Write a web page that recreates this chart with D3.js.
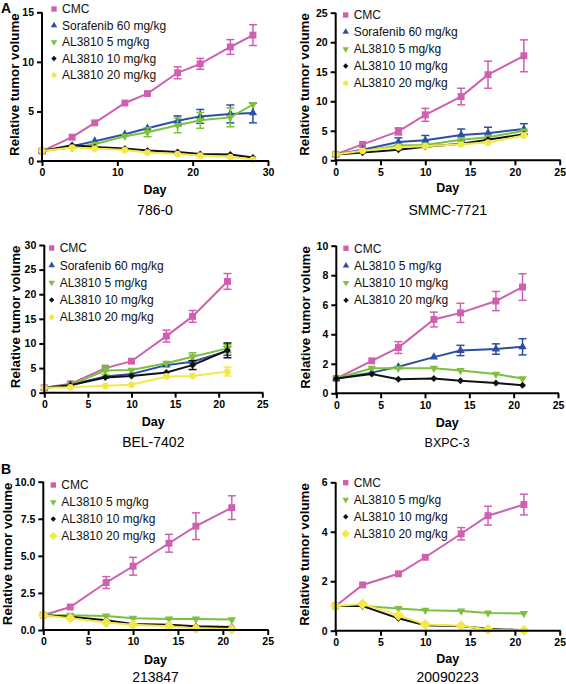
<!DOCTYPE html>
<html><head><meta charset="utf-8">
<script src="https://cdn.jsdelivr.net/npm/d3@7"></script>
<style>body{margin:0;background:#fff}svg{display:block}text{font-family:"Liberation Sans",Arial,sans-serif}</style>
</head><body>
<svg id="c" width="566" height="684"></svg>
<script>
// ---------- data ----------
const legend5 = ["CMC","Sorafenib 60 mg/kg","AL3810 5 mg/kg","AL3810 10 mg/kg","AL3810 20 mg/kg"];
const legend4 = ["CMC","AL3810 5 mg/kg","AL3810 10 mg/kg","AL3810 20 mg/kg"];

const days786 = [0,4,7,11,14,18,21,25,28];
const cmc786 = [1,2.4,3.85,5.85,6.8,8.9,9.8,11.5,12.7];
const cmc786e = [0.05,0.15,0.15,0.25,0.25,0.6,0.55,0.75,1.05];
const sor786 = [1,1.5,2.0,2.7,3.3,4.05,4.5,4.75,4.85];
const sor786e = [0.05,0.1,0.15,0.3,0.35,0.5,0.7,0.9,1.0];
const a5_786 = [1,1.35,1.7,2.5,2.9,3.6,4.1,4.4,5.7];
const a5_786e = [0.05,0.1,0.1,0.35,0.45,0.75,0.8,0.95,0.2];
const a10_786 = [1,1.6,1.4,1.25,1.05,0.9,0.7,0.65,0.35];
const a10_786e = [0.05,0.08,0.08,0.08,0.08,0.08,0.08,0.08,0.05];
const a20_786 = [1,1.35,1.25,1.1,0.85,0.7,0.55,0.4,0.15];
const a20_786e = [0.05,0.05,0.05,0.05,0.05,0.05,0.05,0.05,0.05];

const days7721 = [0,3,7,10,14,17,21];
const cmc7721 = [1,2.7,4.9,7.7,10.8,14.5,17.7];
const cmc7721e = [0.1,0.3,0.6,1.1,1.4,2.3,2.7];
const sor7721 = [1,1.8,3.1,3.4,4.3,4.6,5.3];
const sor7721e = [0.1,0.3,0.7,0.8,1.0,1.0,0.9];
const a5_7721 = [1,1.5,2.5,2.6,3.5,3.9,5.0];
const a5_7721e = [0.1,0.3,0.5,0.4,0.5,0.5,0.4];
const a10_7721 = [1,1.3,1.8,2.3,2.8,3.5,4.4];
const a10_7721e = [0.1,0.1,0.2,0.2,0.2,0.3,0.3];
const a20_7721 = [1,1.6,2.2,2.4,2.7,3.0,4.2];
const a20_7721e = [0.1,0.1,0.2,0.2,0.2,0.2,0.3];

const days7402 = [0,3,7,10,14,17,21];
const cmc7402 = [1,1.8,5.0,6.4,11.5,15.5,22.6];
const cmc7402e = [0.1,0.2,0.4,0.6,1.2,1.2,1.6];
const sor7402 = [1,1.6,3.3,3.8,5.6,6.3,8.5];
const sor7402e = [0.1,0.2,0.5,0.5,0.6,0.7,0.9];
const a5_7402 = [1,1.6,4.5,4.6,6.0,7.3,9.0];
const a5_7402e = [0.1,0.2,0.8,0.6,0.6,0.8,0.8];
const a10_7402 = [1,1.5,3.1,3.4,4.1,5.6,8.6];
const a10_7402e = [0.1,0.2,0.6,0.6,0.6,0.9,1.5];
const a20_7402 = [1,1.1,1.4,1.6,3.3,3.4,4.3];
const a20_7402e = [0.1,0.1,0.2,0.2,0.5,0.6,0.9];

const daysBX = [0,4,7,11,14,18,21];
const cmcBX = [1,2.2,3.1,5.0,5.45,6.25,7.2];
const cmcBXe = [0.05,0.2,0.4,0.5,0.65,0.65,0.9];
const a5BX = [1,1.4,1.8,2.45,2.9,3.0,3.15];
const a5BXe = [0.05,0.1,0.1,0.2,0.35,0.35,0.55];
const a10BX = [1,1.7,1.7,1.7,1.55,1.3,1.0];
const a10BXe = [0.05,0.1,0.1,0.2,0.1,0.1,0.1];
const a20BX = [1,1.3,0.95,1.0,0.85,0.7,0.55];
const a20BXe = [0.05,0.1,0.1,0.1,0.1,0.1,0.2];

const days213 = [0,3,7,10,14,17,21];
const cmc213 = [1,1.55,3.2,4.3,5.85,7.0,8.25];
const cmc213e = [0.1,0.1,0.4,0.6,0.6,0.9,0.8];
const a5_213 = [1,1.0,0.95,0.8,0.75,0.75,0.7];
const a5_213e = [0.05,0.05,0.1,0.1,0.1,0.15,0.2];
const a10_213 = [1,0.9,0.65,0.4,0.35,0.25,0.2];
const a10_213e = [0.05,0.05,0.05,0.05,0.05,0.05,0.05];
const a20_213 = [1,0.8,0.5,0.35,0.25,0.1,0.05];
const a20_213e = [0.05,0.05,0.05,0.05,0.05,0.05,0.05];

const days2009 = [0,3,7,10,14,17,21];
const cmc2009 = [1,1.85,2.3,2.97,3.92,4.65,5.1];
const cmc2009e = [0.05,0.05,0.1,0.12,0.25,0.38,0.42];
const a5_2009 = [1,1.0,0.9,0.83,0.8,0.72,0.7];
const a5_2009e = [0.03,0.03,0.03,0.03,0.03,0.03,0.03];
const a10_2009 = [1,1.0,0.5,0.22,0.18,0.08,0.02];
const a10_2009e = [0.03,0.03,0.03,0.03,0.03,0.03,0.03];
const a20_2009 = [1,1.08,0.62,0.25,0.2,0.05,0.02];
const a20_2009e = [0.03,0.03,0.03,0.03,0.03,0.03,0.03];

const xTicks30 = [0,10,20,30];
const xTicks25 = [0,5,10,15,20,25];
const yTicks786 = [0,5,10,15];
const yTicks7721 = [0,5,10,15,20,25];
const yTicks7402 = [0,5,10,15,20,25,30];
const yTicksBX = [0,2,4,6,8,10];
const yTicks213 = [0,2.5,5,7.5,10];
const yTicks2009 = [0,2,4,6];
const titles = ["786-0","SMMC-7721","BEL-7402","BXPC-3","213847","20090223"];

// ---------- styles ----------
const C = {pink:"#d05fb0", blue:"#2b4fa3", green:"#7dbf3f", black:"#111", yellow:"#f3e84a"};

const panels = [
  {title:titles[0], x0:42, x1:268, yTop:12.3, yBot:161, xMax:30, yMax:15, xt:xTicks30, yt:yTicks786, fmt:d3.format("d"),
   lx:54, ly:9, ld:16.5, ltitleY:215, dayY:194, labOff:28,
   series:[
    {name:legend5[0], days:days786, v:cmc786, e:cmc786e, c:C.pink, m:"square"},
    {name:legend5[1], days:days786, v:sor786, e:sor786e, c:C.blue, m:"tri"},
    {name:legend5[2], days:days786, v:a5_786, e:a5_786e, c:C.green, m:"tridown"},
    {name:legend5[3], days:days786, v:a10_786, e:a10_786e, c:C.black, m:"diamond"},
    {name:legend5[4], days:days786, v:a20_786, e:a20_786e, c:C.yellow, m:"circle"}]},
  {title:titles[1], x0:335.7, x1:559.7, yTop:12.7, yBot:160.3, xMax:25, yMax:25, xt:xTicks25, yt:yTicks7721, fmt:d3.format("d"),
   lx:345.7, ly:15, ld:17, ltitleY:215, dayY:192, labOff:31,
   series:[
    {name:legend5[0], days:days7721, v:cmc7721, e:cmc7721e, c:C.pink, m:"square"},
    {name:legend5[1], days:days7721, v:sor7721, e:sor7721e, c:C.blue, m:"tri"},
    {name:legend5[2], days:days7721, v:a5_7721, e:a5_7721e, c:C.green, m:"tridown"},
    {name:legend5[3], days:days7721, v:a10_7721, e:a10_7721e, c:C.black, m:"diamond"},
    {name:legend5[4], days:days7721, v:a20_7721, e:a20_7721e, c:C.yellow, m:"circle"}]},
  {title:titles[2], x0:44.3, x1:262.3, yTop:245, yBot:392.7, xMax:25, yMax:30, xt:xTicks25, yt:yTicks7402, fmt:d3.format("d"),
   lx:51.7, ly:248, ld:17.3, ltitleY:446.5, dayY:426, labOff:29,
   series:[
    {name:legend5[0], days:days7402, v:cmc7402, e:cmc7402e, c:C.pink, m:"square"},
    {name:legend5[1], days:days7402, v:sor7402, e:sor7402e, c:C.blue, m:"tri"},
    {name:legend5[2], days:days7402, v:a5_7402, e:a5_7402e, c:C.green, m:"tridown"},
    {name:legend5[3], days:days7402, v:a10_7402, e:a10_7402e, c:C.black, m:"diamond"},
    {name:legend5[4], days:days7402, v:a20_7402, e:a20_7402e, c:C.yellow, m:"circle"}]},
  {title:titles[3], x0:336.3, x1:558, yTop:245.7, yBot:393.3, xMax:25, yMax:10, xt:xTicks25, yt:yTicksBX, fmt:d3.format("d"),
   lx:346, ly:248.3, ld:17.3, ltitleY:447, dayY:427, titleSize:12.5, labOff:31,
   series:[
    {name:legend4[0], days:daysBX, v:cmcBX, e:cmcBXe, c:C.pink, m:"square"},
    {name:legend4[1], days:daysBX, v:a5BX, e:a5BXe, c:C.blue, m:"tri"},
    {name:legend4[2], days:daysBX, v:a10BX, e:a10BXe, c:C.green, m:"tridown"},
    {name:legend4[3], days:daysBX, v:a20BX, e:a20BXe, c:C.black, m:"diamond"}]},
  {title:titles[4], x0:43.3, x1:267.7, yTop:481.7, yBot:630, xMax:25, yMax:10, xt:xTicks25, yt:yTicks213, fmt:d3.format(".1f"),
   lx:53.3, ly:485, ld:17, ltitleY:681.5, dayY:664, labOff:36,
   series:[
    {name:legend4[0], days:days213, v:cmc213, e:cmc213e, c:C.pink, m:"square"},
    {name:legend4[1], days:days213, v:a5_213, e:a5_213e, c:C.green, m:"tridown"},
    {name:legend4[2], days:days213, v:a10_213, e:a10_213e, c:C.black, m:"diamond"},
    {name:legend4[3], days:days213, v:a20_213, e:a20_213e, c:C.yellow, m:"bigdiamond"}]},
  {title:titles[5], x0:335.7, x1:559.7, yTop:482.3, yBot:630.7, xMax:25, yMax:6, xt:xTicks25, yt:yTicks2009, fmt:d3.format("d"),
   lx:345.7, ly:482.7, ld:17, ltitleY:681.5, dayY:663, labOff:31,
   series:[
    {name:legend4[0], days:days2009, v:cmc2009, e:cmc2009e, c:C.pink, m:"square"},
    {name:legend4[1], days:days2009, v:a5_2009, e:a5_2009e, c:C.green, m:"tridown"},
    {name:legend4[2], days:days2009, v:a10_2009, e:a10_2009e, c:C.black, m:"diamond"},
    {name:legend4[3], days:days2009, v:a20_2009, e:a20_2009e, c:C.yellow, m:"bigdiamond"}]}
];

const svg = d3.select("#c");

function marker(g, type, color, scale){
  const s = scale || 1;
  let sym, size, rot = 0;
  if(type==="square"){sym=d3.symbolSquare; size=48;}
  else if(type==="tri"){sym=d3.symbolTriangle; size=30;}
  else if(type==="tridown"){sym=d3.symbolTriangle; size=30; rot=180;}
  else if(type==="diamond"){sym=d3.symbolSquare; size=24; rot=45;}
  else if(type==="bigdiamond"){sym=d3.symbolSquare; size=60; rot=45;}
  else {sym=d3.symbolCircle; size=36;}
  return g.append("path").attr("d", d3.symbol().type(sym).size(size*s)())
    .attr("transform", `rotate(${rot})`).attr("fill", color);
}

panels.forEach(p => {
  const x = d3.scaleLinear().domain([0,p.xMax]).range([p.x0,p.x1]);
  const y = d3.scaleLinear().domain([0,p.yMax]).range([p.yBot,p.yTop]);
  const g = svg.append("g");

  // data
  p.series.forEach(s => {
    const pts = s.days.map((d,i)=>({d, v:s.v[i], e:s.e[i]}));
    const sg = g.append("g");
    pts.forEach(pt => {
      const xx = x(pt.d), ya = y(pt.v+pt.e), yb = y(Math.max(0,pt.v-pt.e));
      if (ya < y(pt.v) - 3.5) {
        sg.append("line").attr("x1",xx).attr("x2",xx).attr("y1",ya).attr("y2",yb).attr("stroke",s.c).attr("stroke-width",1.5);
        sg.append("line").attr("x1",xx-4).attr("x2",xx+4).attr("y1",ya).attr("y2",ya).attr("stroke",s.c).attr("stroke-width",1.5);
        sg.append("line").attr("x1",xx-4).attr("x2",xx+4).attr("y1",yb).attr("y2",yb).attr("stroke",s.c).attr("stroke-width",1.5);
      }
    });
    sg.append("path").datum(pts)
      .attr("d", d3.line().x(d=>x(d.d)).y(d=>y(d.v)))
      .attr("fill","none").attr("stroke",s.c).attr("stroke-width",2);
    pts.forEach(pt => {
      const mg = sg.append("g").attr("transform",`translate(${x(pt.d)},${y(pt.v)})`);
      marker(mg, s.m, s.c, 1);
    });
  });

  // axes
  const xa = g.append("g").attr("transform",`translate(0,${p.yBot})`)
    .call(d3.axisBottom(x).tickValues(p.xt).tickSize(5).tickPadding(3).tickFormat(d3.format("d")));
  const ya = g.append("g").attr("transform",`translate(${p.x0},0)`)
    .call(d3.axisLeft(y).tickValues(p.yt).tickSize(5).tickPadding(3).tickFormat(p.fmt));
  [xa,ya].forEach(a => {
    a.select(".domain").attr("stroke","#000").attr("stroke-width",2);
    a.selectAll(".tick line").attr("stroke","#000").attr("stroke-width",2);
    a.selectAll(".tick text").attr("fill","#000").attr("font-size",10.5).attr("font-weight","bold")
      .attr("font-family","'Liberation Sans',Arial,sans-serif");
  });
  xa.select(".domain").attr("d",`M${p.x0-1},0H${p.x1+1}`);
  ya.select(".domain").attr("d",`M0,${p.yTop}V${p.yBot+1}`);

  // axis titles
  const cx = (p.x0+p.x1)/2;
  g.append("text").attr("x",cx).attr("y",p.dayY).attr("text-anchor","middle")
    .attr("font-size",12.5).attr("font-weight","bold").text("Day");
  g.append("text").attr("transform",`translate(${p.x0-p.labOff},${(p.yTop+p.yBot)/2 - 2}) rotate(-90)`)
    .attr("text-anchor","middle").attr("dy","0.35em").attr("font-size",13.3).attr("font-weight","bold").text("Relative tumor volume");
  g.append("text").attr("x",cx).attr("y",p.ltitleY).attr("text-anchor","middle")
    .attr("font-size",p.titleSize||14).text(p.title);

  // legend
  p.series.forEach((s,i) => {
    const yy = p.ly + i*p.ld;
    const mg = g.append("g").attr("transform",`translate(${p.lx},${yy})`);
    marker(mg, s.m, s.c, 0.6);
    g.append("text").attr("x",p.lx+8).attr("y",yy).attr("dy","0.35em")
      .attr("font-size",12).attr("fill","#111").text(s.name);
  });
});

svg.append("text").attr("x",1).attr("y",13).attr("font-size",14).attr("font-weight","bold").text("A");
svg.append("text").attr("x",1).attr("y",474).attr("font-size",14).attr("font-weight","bold").text("B");
</script>
</body></html>
